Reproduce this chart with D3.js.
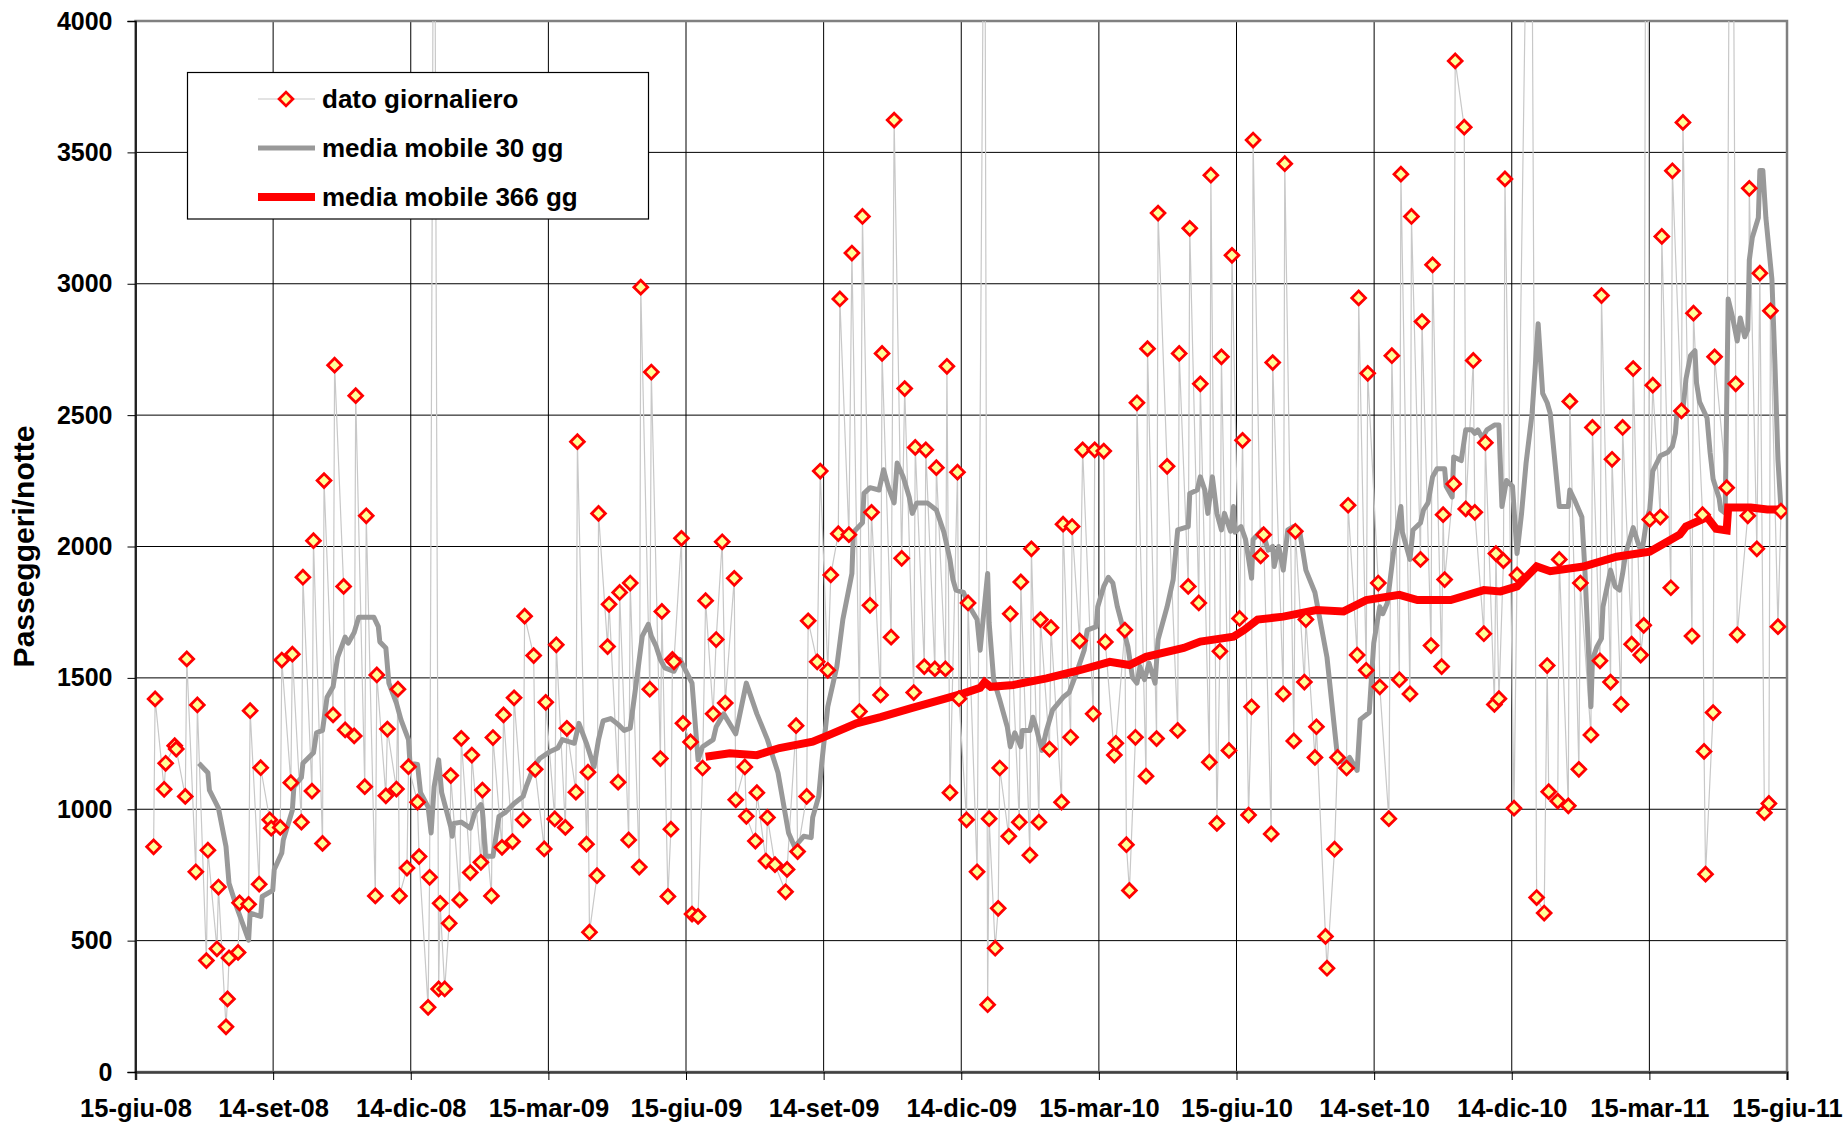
<!DOCTYPE html>
<html>
<head>
<meta charset="utf-8">
<script src="https://cdn.jsdelivr.net/npm/d3@7"></script>
<style>
    body { margin: 0; background: #ffffff; }
    text { font-family: "Liberation Sans", Arial, Helvetica, sans-serif; font-weight: bold; fill: #000; }
</style>
</head>
<body>
<svg id="grafico" width="1847" height="1126"></svg>
<script>
// Dati: giorni contati dal 15-giu-08
const giorniDato = [12,13,19,20,26,27,33,34,40,41,47,48,54,55,60,61,62,68,69,75,76,82,83,89,90,96,97,103,104,110,111,117,118,124,125,131,132,138,139,145,146,152,153,159,160,166,167,173,174,175,180,181,187,188,194,195,198,201,202,205,208,209,215,216,222,223,229,230,236,237,243,244,250,251,257,258,264,265,271,272,278,279,285,286,292,293,299,300,301,306,307,313,314,320,321,327,328,334,335,341,342,348,349,353,355,356,357,362,363,368,369,373,376,378,383,385,389,391,397,398,404,405,411,412,418,419,424,431,432,438,439,445,446,452,454,459,461,466,467,473,475,480,482,487,488,494,495,501,503,508,510,516,517,523,524,530,531,537,538,540,545,546,551,552,558,563,565,566,570,572,573,579,580,586,587,593,594,599,600,606,607,614,615,620,621,626,628,635,636,642,643,649,650,656,657,659,663,664,670,671,677,678,684,691,692,698,699,705,706,712,713,717,719,720,725,727,732,734,738,740,741,746,748,753,754,761,762,768,769,775,776,782,783,789,790,795,797,803,804,810,811,816,817,824,825,831,833,838,839,845,846,852,853,859,860,866,867,868,874,875,881,882,887,888,894,895,901,902,904,907,908,914,916,925,929,934,936,937,943,944,950,951,957,958,965,966,971,972,978,979,985,986,992,993,998,1000,1002,1004,1006,1011,1012,1018,1019,1025,1026,1032,1033,1039,1040,1041,1046,1047,1055,1058,1061,1062,1069,1070,1075,1077,1080,1083,1084,1089,1091];
const valoriDato = [857,1420,1076,1175,1242,1229,1049,1572,762,1397,424,844,469,704,172,278,434,455,644,638,1375,715,1158,960,928,931,1568,1101,1590,951,1883,1069,2022,870,2251,1359,2690,1848,1302,1279,2574,1086,2117,670,1511,1051,1305,1077,1457,670,776,1162,1027,820,246,741,5200,316,642,316,566,1128,655,1270,759,1206,798,1073,670,1273,855,1359,877,1424,960,1735,1585,1152,849,1407,963,1626,931,1308,1065,2399,867,1141,532,747,2126,1619,1780,1103,1825,883,1861,780,2987,1457,2664,1193,1753,668,924,1570,1561,2031,1327,1256,601,592,1157,1794,1363,1646,2018,1404,1879,1036,1161,973,879,1063,803,969,789,686,771,1318,839,1049,1717,1561,2287,1529,1892,2049,2942,2045,3117,1372,3256,1776,2130,1435,2735,1655,3623,1955,2601,1444,2377,1543,2368,1534,2300,1534,2686,1063,2283,1421,960,1785,762,5000,256,964,471,623,1157,897,1744,951,1865,825,1991,951,1722,1229,1691,1027,2085,1274,2076,1641,2368,1363,2368,2363,1637,1206,1251,1682,865,691,1274,2547,1126,2753,1269,3269,2305,1300,2735,1848,3211,1785,2619,1179,3413,946,1601,2722,1224,3108,1726,2404,978,1390,3547,1964,2045,906,2700,1439,3457,1260,2058,1484,1722,1197,1314,516,395,848,1197,1157,2157,1587,2946,1529,2659,1861,1466,964,2726,1493,3417,1439,3256,1951,2856,1623,3072,1543,2121,1874,2238,3848,3596,2143,2708,2130,1668,2395,1399,1973,1421,1946,3399,1004,1892,5500,664,605,1547,1067,1031,1951,1013,2552,1152,1861,1283,2453,1565,2955,1484,2332,1399,2453,1628,2677,1587,1700,6000,2103,2614,2112,3180,1843,3430,2516,3614,1659,2888,2121,1220,753,1368,2722,2224,6000,2619,1664,2117,3363,1991,3040,987,1022,2897,1695,2135];

const giorniMM30 = [42,48,49,55,60,62,67,75,76,83,84,91,92,97,98,104,105,110,111,118,120,124,127,131,134,139,141,145,148,158,161,162,166,168,173,176,181,182,187,189,194,196,198,201,203,209,210,211,216,222,225,229,230,232,237,240,241,245,251,257,259,264,268,275,280,283,291,294,299,304,307,310,315,320,324,328,332,336,340,342,345,348,351,357,361,369,373,376,383,385,390,398,405,412,419,426,433,437,443,448,449,453,455,459,465,469,475,476,482,483,487,493,496,499,503,505,509,513,515,518,525,531,536,540,542,544,549,553,558,560,562,565,566,569,573,578,580,583,587,588,593,595,597,601,604,608,615,619,624,629,631,637,638,642,645,648,651,658,661,664,666,669,672,676,678,684,688,691,698,699,704,706,709,711,714,717,720,722,726,728,729,733,736,740,741,747,751,754,755,758,761,764,768,772,776,782,790,797,801,805,810,812,818,821,825,827,830,834,839,840,845,847,852,854,857,860,863,868,869,873,874,879,882,886,888,890,893,896,901,904,906,909,913,916,919,922,926,930,933,936,938,944,950,951,954,959,961,965,966,969,972,973,978,981,984,986,988,993,997,999,1002,1004,1006,1011,1016,1019,1021,1022,1026,1028,1031,1034,1035,1037,1042,1044,1046,1050,1051,1054,1056,1059,1062,1064,1067,1069,1070,1072,1076,1077,1079,1081,1085,1087,1089,1091];
const valoriMM30 = [1175,1139,1073,1004,858,718,629,502,605,592,668,691,771,834,883,996,1085,1121,1175,1215,1291,1300,1426,1466,1578,1655,1632,1673,1731,1731,1695,1637,1614,1480,1404,1341,1265,1175,1170,1063,1009,910,1085,1188,1063,933,897,946,951,928,987,1018,996,821,821,933,973,987,1022,1049,1085,1161,1193,1220,1233,1265,1251,1327,1251,1161,1265,1336,1345,1323,1300,1309,1480,1659,1704,1659,1623,1570,1538,1525,1570,1480,1188,1238,1265,1314,1363,1287,1480,1363,1265,1139,910,857,897,892,969,1049,1175,1390,1543,1722,1897,2054,2090,2202,2224,2215,2292,2229,2166,2318,2265,2188,2126,2166,2166,2139,2054,1951,1874,1834,1825,1771,1722,1605,1722,1897,1709,1493,1417,1314,1238,1291,1238,1300,1300,1350,1314,1224,1300,1377,1426,1444,1520,1605,1682,1695,1771,1848,1883,1861,1771,1619,1502,1480,1543,1493,1556,1480,1646,1771,1874,2063,2076,2202,2215,2265,2215,2126,2265,2126,2063,2126,2058,2152,2054,2076,2027,1879,2027,2063,1986,2000,1924,2000,1910,2063,2076,2054,1910,1825,1578,1197,1175,1197,1148,1341,1368,1632,1771,1744,1785,1973,2152,2054,1951,2063,2090,2139,2166,2265,2296,2296,2229,2188,2341,2327,2444,2444,2431,2444,2413,2444,2462,2462,2152,2251,2229,1973,2126,2318,2507,2848,2583,2547,2507,2152,2152,2215,2179,2112,1910,1390,1570,1619,1650,1771,1910,1848,1834,1897,1973,2072,2000,1986,2103,2141,2287,2345,2359,2381,2431,2507,2520,2637,2726,2745,2623,2551,2489,2359,2257,2184,2141,2127,2942,2870,2782,2870,2798,2825,3090,3176,3251,3431,3431,3251,3016,2695,2330,2141];

const giorniMM366 = [378,394,412,427,449,460,478,494,515,538,549,560,563,567,582,604,626,646,659,670,695,706,728,735,744,761,783,801,816,838,850,872,894,905,916,929,938,960,982,1004,1024,1028,1042,1048,1055,1056,1071,1082,1091];
const valoriMM366 = [1200,1213,1206,1233,1257,1283,1327,1351,1386,1423,1441,1462,1484,1466,1473,1498,1529,1561,1549,1580,1614,1638,1657,1682,1722,1733,1758,1753,1796,1816,1796,1796,1834,1829,1848,1924,1906,1924,1961,1980,2046,2076,2112,2067,2061,2148,2148,2141,2141];

const etichetteX = ['15-giu-08','14-set-08','14-dic-08','15-mar-09','15-giu-09','14-set-09','14-dic-09','15-mar-10','15-giu-10','14-set-10','14-dic-10','15-mar-11','15-giu-11'];
const tickY = [0, 500, 1000, 1500, 2000, 2500, 3000, 3500, 4000];
const voceLegenda = ['dato giornaliero', 'media mobile 30 gg', 'media mobile 366 gg'];

const inizio = Date.UTC(2008, 5, 15);
const giornoMs = 86400000;
const aData = g => new Date(inizio + g * giornoMs);

const area = { left: 135.5, right: 1787, top: 21, bottom: 1072 };

const svg = d3.select('#grafico');

const x = d3.scaleUtc()
    .domain([aData(0), aData(1095)])
    .range([area.left, area.right]);

const y = d3.scaleLinear()
    .domain([0, 4000])
    .range([area.bottom, area.top]);

// tick ogni 91,25 giorni (quattro per anno)
const tickDate = etichetteX.map((_, i) => aData(i * 91.25));

const serie = (giorni, valori) => giorni.map((g, i) => ({ data: aData(g), valore: valori[i] }));
const dato = serie(giorniDato, valoriDato);
const mm30 = serie(giorniMM30, valoriMM30);
const mm366 = serie(giorniMM366, valoriMM366);

// griglia
svg.append('g')
    .selectAll('line')
    .data(tickY.slice(1))
    .enter().append('line')
    .attr('x1', area.left).attr('x2', area.right)
    .attr('y1', d => y(d)).attr('y2', d => y(d))
    .attr('stroke', '#000').attr('stroke-width', 1);

svg.append('g')
    .selectAll('line')
    .data(tickDate.slice(1))
    .enter().append('line')
    .attr('x1', d => x(d)).attr('x2', d => x(d))
    .attr('y1', area.top).attr('y2', area.bottom)
    .attr('stroke', '#000').attr('stroke-width', 1);

// bordo dell'area del grafico
svg.append('rect')
    .attr('x', area.left).attr('y', area.top)
    .attr('width', area.right - area.left).attr('height', area.bottom - area.top)
    .attr('fill', 'none').attr('stroke', '#808080').attr('stroke-width', 2.5);

svg.append('defs').append('clipPath').attr('id', 'clip')
    .append('rect')
    .attr('x', area.left).attr('y', area.top)
    .attr('width', area.right - area.left).attr('height', area.bottom - area.top);

const plot = svg.append('g').attr('clip-path', 'url(#clip)');

const linea = d3.line()
    .x(d => x(d.data))
    .y(d => y(d.valore));

plot.append('path')
    .datum(dato)
    .attr('fill', 'none')
    .attr('stroke', '#c8c8c8')
    .attr('stroke-width', 1.2)
    .attr('d', linea);

plot.append('path')
    .datum(mm30)
    .attr('fill', 'none')
    .attr('stroke', '#999999')
    .attr('stroke-width', 5)
    .attr('stroke-linejoin', 'round')
    .attr('d', linea);

plot.append('path')
    .datum(mm366)
    .attr('fill', 'none')
    .attr('stroke', '#ff0000')
    .attr('stroke-width', 8)
    .attr('d', linea);

// rombo = quadrato ruotato di 45 gradi
const rombo = d3.symbol(d3.symbolSquare, 95);

plot.selectAll('.marcatore')
    .data(dato)
    .enter().append('path')
    .attr('class', 'marcatore')
    .attr('d', rombo)
    .attr('transform', d => `translate(${x(d.data)},${y(d.valore)}) rotate(45)`)
    .attr('fill', '#ffff99')
    .attr('stroke', '#ff0000')
    .attr('stroke-width', 2.8);

// assi
const assex = svg.append('g')
    .attr('transform', `translate(0,${area.bottom})`)
    .call(d3.axisBottom(x).tickValues(tickDate).tickFormat((d, i) => etichetteX[i]).tickSize(8).tickPadding(19));
assex.select('.domain').attr('stroke', '#404040').attr('stroke-width', 2.5);
assex.selectAll('.tick line').attr('stroke', '#000');
assex.selectAll('text').style('font-size', '25.5px');

const assey = svg.append('g')
    .attr('transform', `translate(${area.left},0)`)
    .call(d3.axisLeft(y).tickValues(tickY).tickFormat(d3.format('d')).tickSize(8).tickPadding(15));
assey.select('.domain').attr('stroke', '#000').attr('stroke-width', 1.5);
assey.selectAll('.tick line').attr('stroke', '#000');
assey.selectAll('text').style('font-size', '25px');

svg.append('text')
    .attr('transform', `translate(34,${(area.top + area.bottom) / 2}) rotate(-90)`)
    .attr('text-anchor', 'middle')
    .style('font-size', '30px')
    .text('Passeggeri/notte');

// legenda
const leg = svg.append('g');
leg.append('rect')
    .attr('x', 187.5).attr('y', 72.5)
    .attr('width', 461).attr('height', 146.5)
    .attr('fill', '#fff').attr('stroke', '#000').attr('stroke-width', 1.2);

const righe = [99, 148, 197];
leg.append('line')
    .attr('x1', 258).attr('x2', 315).attr('y1', righe[0]).attr('y2', righe[0])
    .attr('stroke', '#c8c8c8').attr('stroke-width', 1.2);
leg.append('path')
    .attr('d', rombo)
    .attr('transform', `translate(286,${righe[0]}) rotate(45)`)
    .attr('fill', '#ffff99').attr('stroke', '#ff0000').attr('stroke-width', 2.8);
leg.append('line')
    .attr('x1', 258).attr('x2', 315).attr('y1', righe[1]).attr('y2', righe[1])
    .attr('stroke', '#999999').attr('stroke-width', 5);
leg.append('line')
    .attr('x1', 258).attr('x2', 315).attr('y1', righe[2]).attr('y2', righe[2])
    .attr('stroke', '#ff0000').attr('stroke-width', 8);

leg.selectAll('.voce')
    .data(voceLegenda)
    .enter().append('text')
    .attr('class', 'voce')
    .attr('x', 322)
    .attr('y', (d, i) => righe[i])
    .attr('dy', '0.35em')
    .style('font-size', '26px')
    .text(d => d);
</script>
</body>
</html>
